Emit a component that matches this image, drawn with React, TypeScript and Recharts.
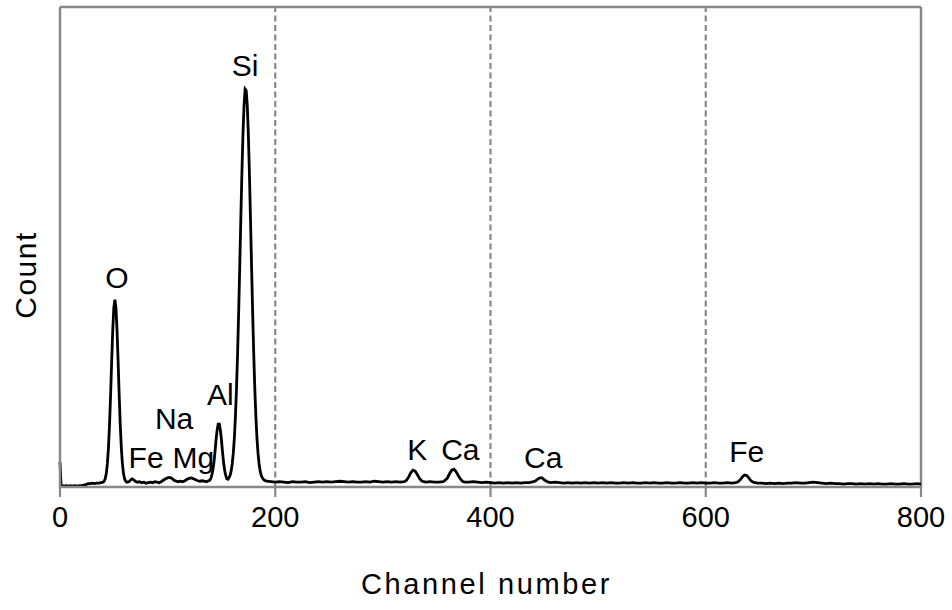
import { LineChart, Line, XAxis, YAxis, ReferenceLine, ReferenceDot } from "recharts";

// EDS spectrum: counts per channel (denser sampling across the peaks)
const channels = [
  0, 1, 2, 4, 6, 8, 10, 12, 14, 16, 18, 20, 22, 24, 26, 28, 30, 32, 34, 36, 38,
  40, 41, 42, 43, 44, 45, 46, 47, 48, 49, 50, 51, 52, 53, 54, 55, 56, 57, 58, 59, 60, 61, 62,
  64, 66, 67, 68, 70, 72, 74, 76, 78, 80, 82, 84, 86, 88, 90, 92, 94, 96, 98, 100, 102, 104,
  106, 108, 110, 112, 114, 116, 118, 120, 122, 124, 126, 128, 130, 132, 134, 136, 138,
  139, 140, 141, 142, 143, 144, 145, 146, 147, 148, 149, 150, 151, 152, 153, 154, 155, 156,
  157, 158, 159, 160, 161, 162, 163, 164, 165, 166, 167, 168, 169, 170, 171, 172, 173, 174,
  175, 176, 177, 178, 179, 180, 181, 182, 183, 184, 185, 186, 187, 188, 189, 190, 191, 192,
  196, 200, 204, 208, 212, 216, 220, 224, 228, 232, 236, 240, 244, 248, 252, 256, 260, 264,
  268, 272, 276, 280, 284, 288, 292, 296, 300, 304, 308, 312, 316, 320,
  322, 324, 326, 328, 330, 332, 334, 336, 338, 340, 344, 348, 352, 356,
  358, 360, 362, 364, 366, 368, 370, 372, 374, 376, 380, 384, 388, 392, 396, 400,
  404, 408, 412, 416, 420, 424, 428, 432, 436,
  438, 440, 442, 444, 446, 448, 450, 452, 454, 456, 460, 464, 468, 472, 476, 480, 484, 488,
  492, 496, 500, 504, 508, 512, 516, 520, 524, 528, 532, 536, 540, 544, 548, 552, 556, 560,
  564, 568, 572, 576, 580, 584, 588, 592, 596, 600, 604, 608, 612, 616, 620, 624, 628,
  630, 632, 634, 636, 638, 640, 642, 644, 646, 648, 652, 656, 660, 664, 668, 672, 676, 680,
  684, 688, 692, 696, 700, 704, 708, 712, 716, 720, 724, 728, 732, 736, 740, 744, 748, 752,
  756, 760, 764, 768, 772, 776, 780, 784, 788, 792, 796, 800,
];

const counts = [
  52, 4, 3, 2, 3, 2, 3, 2, 3, 2, 3, 3, 4, 5, 7, 7, 8, 7, 8, 8, 9,
  10, 12, 17, 28, 48, 81, 129, 191, 261, 326, 373, 390, 373, 326, 261, 191, 129, 81, 48, 28, 17, 12, 10,
  11, 15, 17, 16, 12, 10, 11, 9, 10, 8, 9, 10, 9, 11, 10, 9, 11, 14, 17, 19, 20, 18,
  14, 12, 11, 12, 11, 13, 16, 18, 19, 17, 15, 13, 12, 13, 12, 11, 13,
  14, 17, 24, 35, 51, 73, 98, 119, 131, 131, 119, 98, 73, 51, 35, 24, 17, 16,
  19, 24, 33, 48, 70, 102, 147, 205, 278, 364, 459, 558, 653, 735, 795, 829, 826, 795,
  735, 653, 558, 459, 364, 278, 205, 147, 102, 70, 48, 33, 24, 19, 16, 14, 13, 12,
  11, 10, 11, 10, 9, 11, 10, 10, 11, 9, 10, 11, 10, 11, 10, 11, 12, 11,
  10, 11, 10, 10, 11, 10, 12, 11, 10, 11, 10, 11, 10, 11,
  14, 21, 30, 35, 33, 26, 18, 13, 11, 10, 11, 10, 10, 11,
  14, 19, 28, 35, 37, 32, 24, 17, 12, 10, 10, 11, 10, 9, 10, 9,
  8, 9, 8, 9, 8, 9, 8, 9, 9,
  10, 11, 13, 17, 19, 19, 15, 12, 10, 9, 10, 9, 8, 9, 8, 9, 8, 9,
  8, 9, 8, 9, 8, 9, 8, 8, 9, 8, 9, 8, 8, 9, 8, 9, 8, 8,
  9, 8, 8, 9, 8, 8, 9, 8, 9, 8, 8, 9, 8, 8, 9, 8, 9,
  11, 15, 21, 25, 24, 19, 13, 10, 9, 8, 8, 7, 8, 7, 8, 7, 8, 8,
  9, 8, 8, 9, 10, 9, 8, 7, 8, 7, 7, 6, 7, 7, 6, 7, 6, 7,
  6, 7, 6, 6, 7, 6, 6, 7, 6, 6, 7, 6,
];

const xTicks = [0, 200, 400, 600, 800];
const gridChannels = [200, 400, 600];

// element labels, anchored in channel / count units
const peakElements = ["O", "Fe", "Na", "Mg", "Al", "Si", "K", "Ca", "Ca", "Fe"];
const peakLabelChannels = [53, 80, 106, 124, 149, 172, 332, 372, 449, 638];
const peakLabelCounts = [437, 62, 144, 62, 194, 879, 78, 78, 62, 74];

const FONT = "'Liberation Sans', Arial, sans-serif";
const GREY = "#888888";

const data = channels.map((channel, i) => ({ channel, count: counts[i] }));

const XTitle = ({ viewBox }: any) => (
  <text
    x={viewBox.x + viewBox.width / 2 - 4}
    y={viewBox.y + viewBox.height - 16}
    textAnchor="middle"
    fontFamily={FONT}
    fontSize={29}
    letterSpacing={2.6}
    fill="#000"
  >
    Channel number
  </text>
);

const YTitle = () => (
  <text
    transform="translate(36,275) rotate(-90)"
    textAnchor="middle"
    fontFamily={FONT}
    fontSize={30}
    letterSpacing={1.5}
    fill="#000"
  >
    Count
  </text>
);

export default function App() {
  return (
    <div style={{ position: "absolute", left: 0, top: 0, background: "#fff" }}>
      <LineChart
        width={952}
        height={610}
        data={data}
        margin={{ top: 7, right: 31, left: 0, bottom: 0 }}
      >
        <XAxis
          dataKey="channel"
          type="number"
          domain={[0, 800]}
          ticks={xTicks}
          height={123}
          axisLine={{ stroke: GREY, strokeWidth: 2.5 }}
          tickLine={{ stroke: GREY, strokeWidth: 2.2 }}
          tickSize={10}
          tickMargin={9}
          tick={{ fontSize: 29, fill: "#000", fontFamily: FONT }}
          label={{ content: XTitle }}
        />
        <YAxis
          type="number"
          domain={[0, 1000]}
          width={60}
          tick={false}
          tickLine={false}
          axisLine={{ stroke: GREY, strokeWidth: 2.5 }}
          label={{ content: YTitle }}
        />
        {gridChannels.map((c) => (
          <ReferenceLine
            key={c}
            x={c}
            stroke={GREY}
            strokeWidth={2.2}
            strokeDasharray="6 3.5"
          />
        ))}
        <ReferenceLine y={1000} stroke={GREY} strokeWidth={2.5} />
        <ReferenceLine x={800} stroke={GREY} strokeWidth={2.5} />
        <Line
          dataKey="count"
          type="linear"
          stroke="#000"
          strokeWidth={2.8}
          dot={false}
          isAnimationActive={false}
        />
        {peakElements.map((el, i) => (
          <ReferenceDot
            key={i}
            x={peakLabelChannels[i]}
            y={peakLabelCounts[i]}
            r={0}
            fill="none"
            stroke="none"
            label={{
              value: el,
              position: "center",
              fontSize: 30,
              fill: "#000",
              fontFamily: FONT,
            }}
          />
        ))}
      </LineChart>
    </div>
  );
}
